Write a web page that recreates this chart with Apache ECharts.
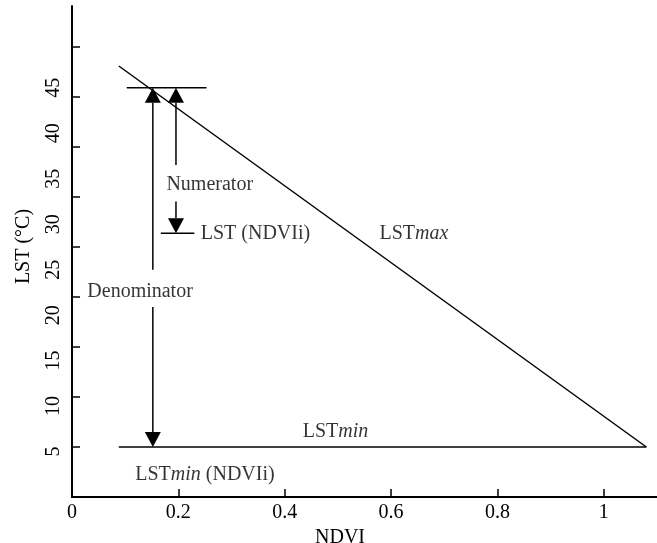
<!DOCTYPE html>
<html><head><meta charset="utf-8">
<script src="https://cdn.jsdelivr.net/npm/echarts@6/dist/echarts.min.js"></script>
<style>html,body{margin:0;padding:0;background:#fff}#c{width:657px;height:543px}</style>
</head><body><div id="c"></div>
<script>
// ---- data ----
const xTickLabels = [0, 0.2, 0.4, 0.6, 0.8, 1];
const yTickLabels = [5, 10, 15, 20, 25, 30, 35, 40, 45];
const yTickMarks = [5, 10, 15, 20, 25, 30, 35, 40, 45];   // tick marks (drawn on their own scale, as in the source figure)
const dryEdge = [[0.088, 47.4], [1.08, 5.5]];        // LSTmax
const wetEdge = [[0.088, 5.5], [1.08, 5.5]];         // LSTmin
const lstMaxAtNdviI = [[0.103, 45], [0.253, 45]];
const lstAtNdviI = [[0.167, 29], [0.230, 29]];
const arrowX = [0.152, 0.1955];                      // Denominator, Numerator
const arrowTop = [45, 45];
const arrowBottom = [5.5, 29];
const arrowGapLow = [20.9, 32.5];
const arrowGapHigh = [25.0, 36.5];
const noteText = ['Numerator', 'LST (NDVIi)', 'Denominator', '{n|LST}{i|max}', '{n|LST}{i|min}', '{n|LST}{i|min}{n| (NDVIi)}'];
const noteX = [0.259, 0.345, 0.128, 0.643, 0.4955, 0.250];
const noteY = [34.3, 29.0, 22.6, 29.0, 7.2, 2.4];

const FONT = 'Liberation Serif';
const black = '#000';
const lineStyle = {color: black, width: 1.5};

function seg(name, data) {
  return {type: 'line', name, data, symbol: 'none', lineStyle, silent: true, xAxisIndex: 0, yAxisIndex: 0, z: 3};
}

const chart = echarts.init(document.getElementById('c'), null, {renderer: 'canvas'});
chart.setOption({
  animation: false,
  backgroundColor: '#fff',
  grid: {left: 72, right: 0, top: 6, bottom: 46, containLabel: false, outerBoundsMode: 'none'},
  xAxis: [{
    type: 'value', min: 0, max: 1.1, interval: 0.2, position: 'bottom',
    name: 'NDVI', nameLocation: 'middle', nameGap: 24,
    nameTextStyle: {fontFamily: FONT, fontSize: 20, color: black, padding: [0, 49, 0, 0]},
    axisLine: {show: true, lineStyle: {color: black, width: 2}},
    axisTick: {show: true, inside: true, length: 8, customValues: xTickLabels.slice(1), lineStyle: {color: black, width: 1.5}},
    axisLabel: {fontFamily: FONT, fontSize: 20, color: black, margin: 6, customValues: xTickLabels,
      formatter: v => String(v)},
    splitLine: {show: false}
  }, {
    type: 'value', min: 0, max: 1.1, position: 'top',
    axisLine: {show: true, lineStyle: {color: black, width: 2}},
    axisTick: {show: false}, axisLabel: {show: false}, splitLine: {show: false}
  }],
  yAxis: [{
    type: 'value', min: 0, max: 54, interval: 5, position: 'left',
    name: 'LST (°C)', nameLocation: 'middle', nameGap: 38, nameRotate: 90,
    nameTextStyle: {fontFamily: FONT, fontSize: 20, color: black, padding: [0, 0, 0, 10]},
    axisLine: {show: true, lineStyle: {color: black, width: 2}},
    axisTick: {show: false},
    axisLabel: {fontFamily: FONT, fontSize: 20, color: black, rotate: 90, margin: 8, customValues: yTickLabels,
      formatter: v => String(v)},
    splitLine: {show: false}
  }, {
    type: 'value', min: 0, max: 49.1, interval: 5, position: 'left',
    axisLine: {show: false},
    axisTick: {show: true, inside: true, length: 8, customValues: yTickMarks, lineStyle: {color: black, width: 1.5}},
    axisLabel: {show: false}, splitLine: {show: false}
  }],
  series: [
    seg('LSTmax', dryEdge),
    seg('LSTmin', wetEdge),
    seg('LSTmax(NDVIi)', lstMaxAtNdviI),
    seg('LST(NDVIi)', lstAtNdviI),
    {
      type: 'custom', name: 'arrows', xAxisIndex: 0, yAxisIndex: 0, silent: true, clip: false, z: 4,
      data: arrowX.map((x, i) => [x, arrowTop[i], arrowBottom[i], arrowGapLow[i], arrowGapHigh[i]]),
      renderItem: function (params, api) {
        const x = api.value(0);
        const pT = api.coord([x, api.value(1)]);
        const pB = api.coord([x, api.value(2)]);
        const pGl = api.coord([x, api.value(3)]);
        const pGh = api.coord([x, api.value(4)]);
        const h = 15, w = 8;
        const st = {stroke: black, lineWidth: 1.5};
        return {type: 'group', children: [
          {type: 'line', shape: {x1: pT[0], y1: pT[1] + h, x2: pT[0], y2: pGh[1]}, style: st},
          {type: 'line', shape: {x1: pT[0], y1: pGl[1], x2: pT[0], y2: pB[1] - h}, style: st},
          {type: 'polygon', shape: {points: [[pT[0], pT[1]], [pT[0] - w, pT[1] + h], [pT[0] + w, pT[1] + h]]}, style: {fill: black}},
          {type: 'polygon', shape: {points: [[pB[0], pB[1]], [pB[0] - w, pB[1] - h], [pB[0] + w, pB[1] - h]]}, style: {fill: black}}
        ]};
      }
    },
    {
      type: 'scatter', name: 'notes', xAxisIndex: 0, yAxisIndex: 0, silent: true, z: 5,
      symbolSize: 1, itemStyle: {color: 'rgba(0,0,0,0)'},
      data: noteX.map((x, i) => ({value: [x, noteY[i]], label: {formatter: noteText[i]}})),
      label: {
        show: true, position: 'inside', fontFamily: FONT, fontSize: 20, color: black,
        rich: {
          n: {fontFamily: FONT, fontSize: 20, color: black},
          i: {fontFamily: FONT, fontSize: 20, color: black, fontStyle: 'italic'}
        }
      },
      labelLayout: {hideOverlap: false}
    }
  ]
});
</script>
</body></html>
